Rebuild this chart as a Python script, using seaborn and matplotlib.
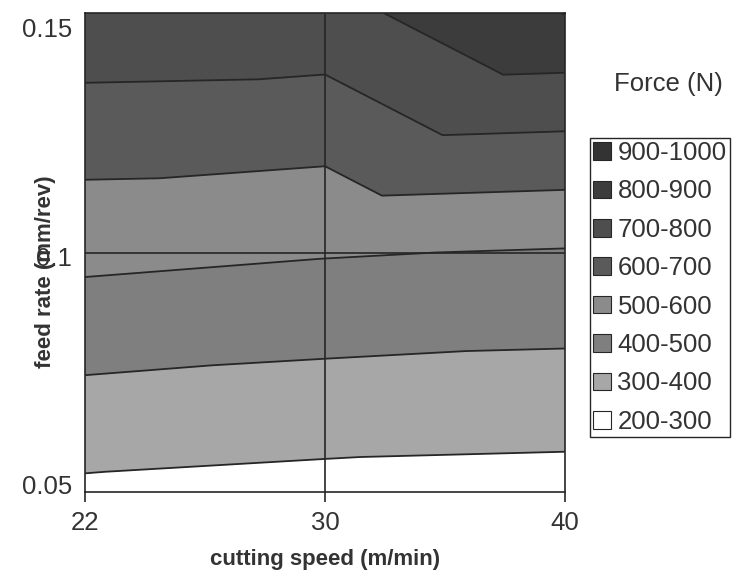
import numpy as np
import matplotlib
matplotlib.use("Agg")
import matplotlib.pyplot as plt
import matplotlib.tri as mtri
from matplotlib.patches import Patch
from matplotlib.transforms import ScaledTranslation
import seaborn as sns

# cutting speed (m/min) along x, feed rate (mm/rev) along y
speeds = [22, 30, 40]
feeds = [0.05, 0.1, 0.15]

force_f005 = [281, 267, 261]
force_f010 = [525, 506, 493]
force_f015 = [772, 767, 902]

levels = [200, 300, 400, 500, 600, 700, 800, 900, 1000]
band_labels = ['200-300', '300-400', '400-500', '500-600',
               '600-700', '700-800', '800-900', '900-1000']
band_colors = ['#ffffff', '#a7a7a7', '#7f7f7f', '#8b8b8b',
               '#5a5a5a', '#4e4e4e', '#3c3c3c', '#333333']

sns.set_theme(style='white')
plt.rcParams['font.family'] = ['Liberation Sans', 'DejaVu Sans']

fig = plt.figure(figsize=(7.44, 5.79), dpi=100)
ax = fig.add_axes([85 / 744, 87 / 579, 480 / 744, 479 / 579])

# categorical grid: the three speeds and feeds are equally spaced
nx, ny = len(speeds), len(feeds)
gx, gy = np.meshgrid(np.arange(nx), np.arange(ny))
z = np.array([force_f005, force_f010, force_f015]).ravel()

# split every cell along the lower-left -> upper-right diagonal
tris = []
for j in range(ny - 1):
    for i in range(nx - 1):
        a = j * nx + i
        tris.append([a, a + 1, a + nx + 1])
        tris.append([a, a + nx + 1, a + nx])
tri = mtri.Triangulation(gx.ravel(), gy.ravel(), tris)

ax.tricontourf(tri, z, levels=levels, colors=band_colors)
ax.tricontour(tri, z, levels=levels[1:-1], colors='#262626', linewidths=1.3)

# mesh lines through the middle grid point
ax.axvline(1, color='#262626', lw=1.2)
ax.axhline(1, color='#262626', lw=1.2)

ax.set_xlim(0, nx - 1)
ax.set_ylim(0, ny - 1)
ax.set_xticks(range(nx))
ax.set_xticklabels([str(s) for s in speeds])
ax.set_yticks(range(ny))
ax.set_yticklabels([str(f) for f in feeds])

ax.tick_params(axis='x', bottom=True, length=7, width=1.2, color='#262626',
               pad=7, labelsize=18.5, labelcolor='#333333')
ax.tick_params(axis='y', left=False, pad=3.5, labelsize=18.5, labelcolor='#333333')

# the series labels sit a little off their grid lines, as in the original
shifts = [3.6, -5, -12.5]
for lab, dy in zip(ax.get_yticklabels(), shifts):
    lab.set_va('center')
    lab.set_transform(lab.get_transform() + ScaledTranslation(0, dy / 72, fig.dpi_scale_trans))

for sp in ax.spines.values():
    sp.set_color('#262626')
    sp.set_linewidth(1.2)

ax.set_xlabel('cutting speed (m/min)', fontsize=16, fontweight='bold',
              color='#333333', labelpad=10)
ax.set_ylabel('feed rate (mm/rev)', fontsize=16, fontweight='bold',
              color='#333333')
ax.yaxis.set_label_coords(-0.06, 0.46)

handles = []
for lab, col in zip(band_labels[::-1], band_colors[::-1]):
    handles.append(Patch(facecolor=col, edgecolor='#262626', linewidth=0.8, label=lab))

leg = fig.legend(handles=handles, loc='upper left',
                 bbox_to_anchor=(590 / 744, 1 - 138 / 579),
                 fontsize=18.5, frameon=True, fancybox=False,
                 edgecolor='#262626', framealpha=1, borderaxespad=0,
                 handlelength=0.68, handleheight=0.68, handletextpad=0.27,
                 labelspacing=0.56, borderpad=0.12)
leg.get_frame().set_linewidth(1.0)
for t in leg.get_texts():
    t.set_color('#333333')

fig.text(668 / 744, 1 - 84 / 579, 'Force (N)', ha='center', va='center',
         fontsize=18.5, color='#333333')

fig.savefig('out.png', dpi=100)
